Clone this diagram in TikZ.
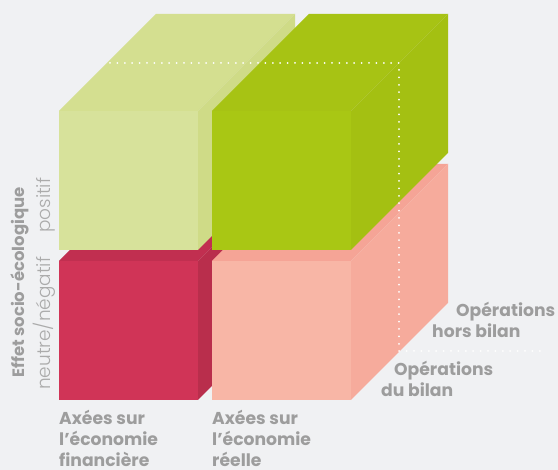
\documentclass[tikz,border=0pt]{standalone}
\usepackage{fontspec}
\setmainfont{Poppins}[Ligatures=NoCommon]
\IfFontExistsTF{Poppins Light}{\newfontfamily\lightfont{Poppins Light}[Ligatures=NoCommon]}{\newfontfamily\lightfont{Poppins}[Ligatures=NoCommon]}
\definecolor{bg}{HTML}{F0F1F3}
\definecolor{lgF}{HTML}{D7E29B}
\definecolor{lgT}{HTML}{D4DF90}
\definecolor{lgS}{HTML}{CFDB87}
\definecolor{gF}{HTML}{A9C714}
\definecolor{gT}{HTML}{A7C314}
\definecolor{gS}{HTML}{A4C012}
\definecolor{rF}{HTML}{D03457}
\definecolor{rT}{HTML}{C12F50}
\definecolor{rS}{HTML}{B92E4C}
\definecolor{pF}{HTML}{F8B6A6}
\definecolor{pT}{HTML}{F5A496}
\definecolor{pS}{HTML}{F6AB9C}
\definecolor{txtB}{HTML}{9D9D9D}
\definecolor{txtL}{HTML}{ABABAB}
\newcommand\drawcube[5]{%
  \fill[#4] (#1,#2) -- ++(139,0) -- ++(97,-97) -- ++(-139,0) -- cycle;
  \fill[#5] (#1+139,#2) -- ++(97,-97) -- ++(0,139) -- ++(-97,97) -- cycle;
  \fill[#3] (#1,#2) rectangle ++(139,139);}
\tikzset{
  lbl/.style={text=txtB, font=\fontsize{17.2}{21}\selectfont\bfseries, inner sep=0pt, anchor=base west},
  efflbl/.style={lbl, font=\fontsize{16.5}{21}\selectfont\bfseries, rotate=90},
  thinlbl/.style={text=txtL, font=\fontsize{18.5}{22}\selectfont\lightfont, inner sep=0pt, anchor=base west, rotate=90},
  dotline/.style={white, line width=2pt, line cap=round, dash pattern=on 0pt off 7.4pt}
}
\begin{document}
\begin{tikzpicture}[x=1pt,y=-1pt]
\useasboundingbox (0,0) rectangle (558,470);
\fill[bg] (0,0) rectangle (558,470);
% cubes (back to front)
\drawcube{59}{261}{rF}{rT}{rS}
\drawcube{212}{261}{pF}{pT}{pS}
\drawcube{59}{111}{lgF}{lgT}{lgS}
\drawcube{212}{111}{gF}{gT}{gS}
% dotted separation plane
\coordinate (d1) at (110,63);
\coordinate (d2) at (399,63);
\coordinate (d3) at (399,351);
\coordinate (d4) at (544,351);
\draw[dotline] (d1) -- (d2) -- (d3) -- (d4);
% axis labels
\node[efflbl] (eff) at (24,378) {Effet socio-écologique};
\node[thinlbl] (pos) at (50,233) {positif};
\node[thinlbl] (neg) at (50,390) {neutre/négatif};
\node[lbl] (f1) at (59,424.5) {Axées sur};
\node[lbl] (f2) at (59,445.5) {l’économie};
\node[lbl] (f3) at (59,466.5) {financière};
\node[lbl] (r1) at (212,424.5) {Axées sur};
\node[lbl] (r2) at (212,445.5) {l’économie};
\node[lbl] (r3) at (212,466.5) {réelle};
\node[lbl] (o1) at (456,316.5) {Opérations};
\node[lbl] (o2) at (432,338) {hors bilan};
\node[lbl] (o3) at (394,375.5) {Opérations};
\node[lbl] (o4) at (381,397) {du bilan};
\end{tikzpicture}
\end{document}
